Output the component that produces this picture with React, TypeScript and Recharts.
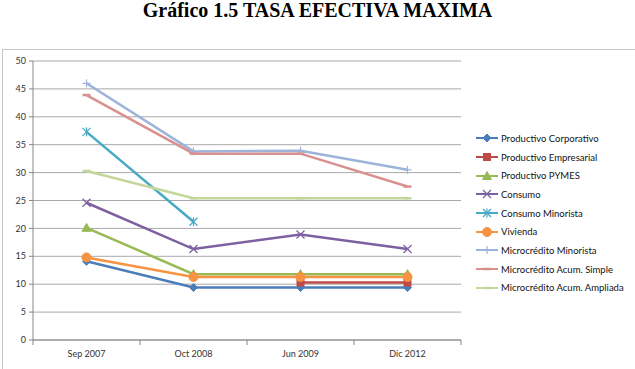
import React from "react";
import { LineChart, Line, XAxis, YAxis, CartesianGrid } from "recharts";

// Period labels along the horizontal axis
const periods = ["Sep 2007", "Oct 2008", "Jun 2009", "Dic 2012"];

// Maximum effective rate (%) by credit type and period
const productivoCorporativo = [14.1, 9.4, 9.4, 9.4];
const productivoEmpresarial = [null, null, 10.3, 10.3];
const productivoPymes = [20.1, 11.8, 11.8, 11.8];
const consumo = [24.6, 16.3, 18.9, 16.3];
const consumoMinorista = [37.3, 21.2, null, null];
const vivienda = [14.8, 11.3, 11.3, 11.3];
const microMinorista = [46.0, 33.8, 33.9, 30.5];
const microAcumSimple = [43.9, 33.4, 33.4, 27.5];
const microAcumAmpliada = [30.3, 25.4, 25.4, 25.4];

const yTicks = [0, 5, 10, 15, 20, 25, 30, 35, 40, 45, 50];
const xEdges = [0, 1, 2, 3, 4];

type Shape = "diamond" | "square" | "triangle" | "x" | "star" | "circle" | "plus" | "dash";

const seriesDefs: { key: string; name: string; values: (number | null)[]; color: string; shape: Shape }[] = [
  { key: "corp", name: "Productivo Corporativo", values: productivoCorporativo, color: "#4A7DBA", shape: "diamond" },
  { key: "emp", name: "Productivo Empresarial", values: productivoEmpresarial, color: "#BE4B48", shape: "square" },
  { key: "pymes", name: "Productivo PYMES", values: productivoPymes, color: "#98B954", shape: "triangle" },
  { key: "consumo", name: "Consumo", values: consumo, color: "#7D60A0", shape: "x" },
  { key: "consMin", name: "Consumo Minorista", values: consumoMinorista, color: "#46AAC5", shape: "star" },
  { key: "viv", name: "Vivienda", values: vivienda, color: "#F69443", shape: "circle" },
  { key: "microMin", name: "Microcrédito Minorista", values: microMinorista, color: "#9DB3DA", shape: "plus" },
  { key: "simple", name: "Microcrédito Acum. Simple", values: microAcumSimple, color: "#D9918F", shape: "dash" },
  { key: "ampliada", name: "Microcrédito Acum. Ampliada", values: microAcumAmpliada, color: "#C3D69B", shape: "dash" },
];

// Categories sit in the middle of each band of a numeric [0, 4] axis,
// so the tick marks fall on the band edges.
const rows = periods.map((p, i) => {
  const row: Record<string, number | string | null> = { x: i + 0.5, period: p };
  seriesDefs.forEach((s) => {
    row[s.key] = s.values[i];
  });
  return row;
});

const CHART_W = 635;
const CHART_H = 369;
const MARGIN = { top: 61, right: 174, bottom: 0, left: 0 };
const Y_AXIS_W = 33;
const BAND = (CHART_W - MARGIN.left - MARGIN.right - Y_AXIS_W) / periods.length;
const UI_FONT = "Lato, 'Open Sans', sans-serif";

function marker(shape: Shape, color: string, cx: number, cy: number, key?: string) {
  switch (shape) {
    case "diamond":
      return <polygon key={key} points={`${cx},${cy - 4} ${cx + 4},${cy} ${cx},${cy + 4} ${cx - 4},${cy}`} fill={color} stroke={color} />;
    case "square":
      return <rect key={key} x={cx - 3.5} y={cy - 3.5} width={7} height={7} fill={color} stroke={color} />;
    case "triangle":
      return <polygon key={key} points={`${cx},${cy - 4.5} ${cx + 4.5},${cy + 3.5} ${cx - 4.5},${cy + 3.5}`} fill={color} stroke={color} />;
    case "x":
      return (
        <g key={key} stroke={color} strokeWidth={1.2}>
          <line x1={cx - 4} y1={cy - 4} x2={cx + 4} y2={cy + 4} />
          <line x1={cx - 4} y1={cy + 4} x2={cx + 4} y2={cy - 4} />
        </g>
      );
    case "star":
      return (
        <g key={key} stroke={color} strokeWidth={1.2}>
          <line x1={cx - 4} y1={cy - 4} x2={cx + 4} y2={cy + 4} />
          <line x1={cx - 4} y1={cy + 4} x2={cx + 4} y2={cy - 4} />
          <line x1={cx} y1={cy - 4.5} x2={cx} y2={cy + 4.5} />
        </g>
      );
    case "circle":
      return <circle key={key} cx={cx} cy={cy} r={4.5} fill={color} stroke={color} />;
    case "plus":
      return (
        <g key={key} stroke={color} strokeWidth={1.2}>
          <line x1={cx - 4} y1={cy} x2={cx + 4} y2={cy} />
          <line x1={cx} y1={cy - 4} x2={cx} y2={cy + 4} />
        </g>
      );
    case "dash":
    default:
      return <line key={key} x1={cx - 4} y1={cy} x2={cx + 4} y2={cy} stroke={color} strokeWidth={2.5} />;
  }
}

const makeDot = (shape: Shape, color: string) => (props: any) => {
  const { cx, cy, index, payload, dataKey } = props;
  const k = `${dataKey}-${index}`;
  if (cx == null || cy == null || payload?.[dataKey] == null) return <g key={k} />;
  return marker(shape, color, cx, cy, k);
};

const PeriodTick = (props: any) => {
  const { x, y, payload } = props;
  const idx = payload.value as number;
  if (idx >= periods.length) return <g />;
  return (
    <text x={x + BAND / 2} y={y + 10} textAnchor="middle" fontSize={9} fontFamily={UI_FONT} fill="#333">
      {periods[idx]}
    </text>
  );
};

const LegendBox = () => (
  <div style={{ fontFamily: UI_FONT, fontSize: 9.5, color: "#111" }}>
    {seriesDefs.map((s) => (
      <div key={s.key} style={{ display: "flex", alignItems: "center", height: 18.7 }}>
        <svg width={24} height={10} style={{ marginRight: 1 }}>
          <line x1={0} y1={5} x2={22} y2={5} stroke={s.color} strokeWidth={2} />
          {marker(s.shape, s.color, 11, 5)}
        </svg>
        <span style={{ whiteSpace: "nowrap" }}>{s.name}</span>
      </div>
    ))}
  </div>
);

export default function App() {
  return (
    <div style={{ position: "absolute", left: 0, top: 0, width: CHART_W, height: CHART_H, background: "#fff", overflow: "hidden" }}>
      <div
        style={{
          position: "absolute",
          left: 0,
          top: -1,
          width: CHART_W,
          textAlign: "center",
          fontFamily: "'Liberation Serif', 'Times New Roman', serif",
          fontWeight: "bold",
          fontSize: 20,
          lineHeight: "22px",
          color: "#000",
        }}
      >
        Gráfico 1.5 TASA EFECTIVA MAXIMA
      </div>
      <div
        style={{
          position: "absolute",
          left: 2,
          top: 49,
          width: 700,
          height: 400,
          borderTop: "1.5px solid #c6c6c6",
          borderLeft: "1.5px solid #c6c6c6",
        }}
      />
      <div style={{ position: "absolute", left: 0, top: 0 }}>
        <LineChart width={CHART_W} height={CHART_H} data={rows} margin={MARGIN}>
          <CartesianGrid horizontal vertical={false} stroke="#a9a9a9" />
          <XAxis
            dataKey="x"
            type="number"
            domain={[0, 4]}
            ticks={xEdges}
            interval={0}
            height={29}
            tickSize={5}
            stroke="#868686"
            tick={<PeriodTick />}
            allowDataOverflow
          />
          <YAxis
            type="number"
            domain={[0, 50]}
            ticks={yTicks}
            interval={0}
            width={Y_AXIS_W}
            tickSize={4}
            tickMargin={3}
            stroke="#868686"
            tick={{ fontSize: 9, fill: "#333", fontFamily: UI_FONT }}
          />
          {seriesDefs.map((s) => (
            <Line
              key={s.key}
              type="linear"
              dataKey={s.key}
              name={s.name}
              stroke={s.color}
              strokeWidth={2.5}
              dot={makeDot(s.shape, s.color)}
              activeDot={false}
              connectNulls={false}
              isAnimationActive={false}
            />
          ))}
        </LineChart>
      </div>
      <div style={{ position: "absolute", left: 476, top: 129 }}>
        <LegendBox />
      </div>
    </div>
  );
}
